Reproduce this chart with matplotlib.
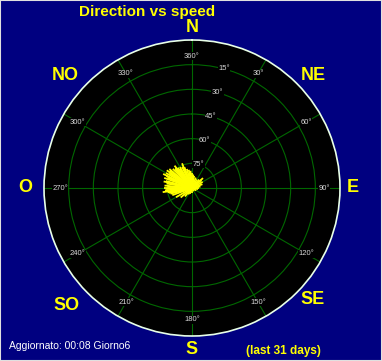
import numpy as np
import matplotlib
matplotlib.use("Agg")
import matplotlib.pyplot as plt
from matplotlib.patches import Rectangle

# wind direction (deg, clockwise from N) and speed (in ring units)
directions = [200, 210, 220, 230, 240, 250, 255, 258, 260, 262, 265, 268, 270,
              273, 275, 280, 283, 285, 290, 293, 295, 296, 300, 303, 305, 308,
              310, 315, 318, 320, 322, 325, 328, 330, 335, 338, 340, 345, 350,
              355, 0, 5, 10, 20, 30, 40, 48, 50, 60, 70, 80, 90, 100, 120, 150,
              180]
speeds = [0.25, 0.3, 0.45, 0.6, 0.75, 0.85, 0.9, 0.95, 1.0, 1.2, 1.1, 1.05, 1.15,
          1.0, 1.12, 1.05, 1.18, 1.1, 1.2, 1.08, 1.15, 1.3, 1.22, 1.1, 1.25, 1.15,
          1.2, 1.1, 1.02, 1.05, 1.15, 1.0, 0.92, 0.98, 0.95, 1.08, 0.9, 0.8, 0.75,
          0.7, 0.6, 0.55, 0.5, 0.45, 0.4, 0.45, 0.6, 0.5, 0.5, 0.45, 0.35, 0.3,
          0.25, 0.2, 0.15, 0.2]

ring_labels = ["75°", "60°", "45°", "30°", "15°"]
azimuths = [30, 60, 90, 120, 150, 180, 210, 240, 270, 300, 330, 360]
compass = ["N", "NE", "E", "SE", "S", "SO", "O", "NO"]
compass_pos = [(192, 28), (313, 76), (353, 188), (313, 300),
               (192, 349), (67, 305), (25, 188), (65, 75)]

W, H = 382, 361
navy = "#000080"
grid_green = "#006800"

fig = plt.figure(figsize=(W / 100, H / 100), dpi=100, facecolor=navy)
fig.patches.append(Rectangle((0, 0), 1, 1, transform=fig.transFigure,
                             fill=False, edgecolor="#e0e0e0", linewidth=1.5))

ax = fig.add_axes([44 / W, 25 / H, 296 / W, 296 / H], projection="polar")
ax.set_facecolor("black")
ax.set_theta_zero_location("N")
ax.set_theta_direction(-1)
ax.set_ylim(0, 6)
ax.set_rgrids([1, 2, 3, 4, 5], labels=[""] * 5)
ax.set_thetagrids(np.arange(0, 360, 30), labels=[""] * 12)
ax.grid(True, color=grid_green, linewidth=0.8)
ax.spines["polar"].set_color("#e8ffe8")
ax.spines["polar"].set_linewidth(1.2)
ax.tick_params(length=0)

# data: lines from centre
for d, s in zip(directions, speeds):
    ax.plot([np.radians(d), np.radians(d)], [0, s], color="yellow",
            linewidth=1.3, solid_capstyle="butt")

lab_box = dict(facecolor="black", edgecolor="none", pad=0.3)
for i, lab in enumerate(ring_labels):
    ax.text(np.radians(15), i + 1, lab, color="#d8d8d8", fontsize=5.5,
            ha="center", va="center", bbox=lab_box, family="Liberation Sans")
for a in azimuths:
    ax.text(np.radians(a), 5.35, f"{a}°", color="#d8d8d8", fontsize=5.5,
            ha="center", va="center", bbox=lab_box, family="Liberation Sans")


def px(x, y):
    return x / W, 1 - y / H


for lab, (x, y) in zip(compass, compass_pos):
    fig.text(*px(x, y), lab, color="yellow", fontsize=13, fontweight="bold",
             ha="center", va="center", family="Liberation Sans")

fig.text(*px(147, 12), "Direction vs speed", color="yellow", fontsize=11,
         fontweight="bold", ha="center", va="center", family="Liberation Sans")
fig.text(*px(283, 351), "(last 31 days)", color="yellow", fontsize=8.5,
         fontweight="bold", ha="center", va="center", family="Liberation Sans")
fig.text(*px(9, 346), "Aggiornato: 00:08 Giorno6", color="white", fontsize=7.5,
         ha="left", va="center", family="Liberation Sans")

fig.savefig("out.png", dpi=100, facecolor=navy)
